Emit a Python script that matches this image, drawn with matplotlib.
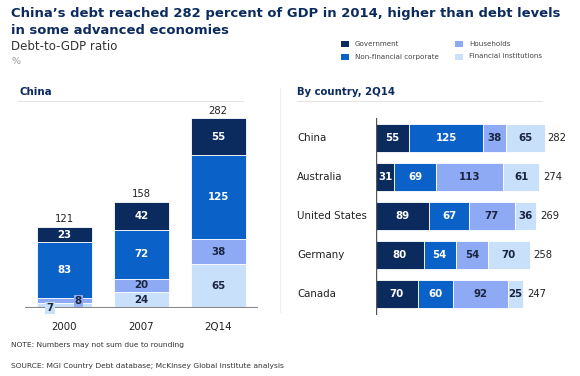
import matplotlib
matplotlib.use("Agg")
import matplotlib.pyplot as plt
import matplotlib.transforms as mtransforms
from matplotlib.patches import Rectangle
from matplotlib.lines import Line2D

plt.rcParams['font.family'] = ['DejaVu Sans']

# ---- data ----
years = ["2000", "2007", "2Q14"]
series = ["Government", "Non-financial corporate", "Households", "Financial institutions"]
china_gov = [23, 42, 55]
china_corp = [83, 72, 125]
china_hh = [8, 20, 38]
china_fin = [7, 24, 65]
china_total = [121, 158, 282]

countries = ["China", "Australia", "United States", "Germany", "Canada"]
c_gov = [55, 31, 89, 80, 70]
c_corp = [125, 69, 67, 54, 60]
c_hh = [38, 113, 77, 54, 92]
c_fin = [65, 61, 36, 70, 25]
c_total = [282, 274, 269, 258, 247]

colors = {"Government": "#0b2a5e", "Non-financial corporate": "#0a62c8",
          "Households": "#8eaaf5", "Financial institutions": "#c8e0fa"}
label_colors = {"Government": "white", "Non-financial corporate": "white",
                "Households": "#1a2540", "Financial institutions": "#1a2540"}
navy = "#0b2a5e"

W, H = 580, 376
fig = plt.figure(figsize=(5.8, 3.76), dpi=100)

def fx(px):
    return px / W

def fy(py):
    return 1 - py / H

# Title (fit line 1 to the reference width)
t1 = fig.text(fx(11), fy(14), "China\u2019s debt reached 282 percent of GDP in 2014, higher than debt levels",
              fontsize=9.0, fontweight="bold", color=navy, va="center", ha="left")
renderer = fig.canvas.get_renderer()
wpx = t1.get_window_extent(renderer).width
fs_title = 9.0 * (557 - 11) / wpx
t1.set_fontsize(fs_title)
fig.text(fx(11), fy(30.5), "in some advanced economies",
         fontsize=fs_title, fontweight="bold", color=navy, va="center", ha="left")
fig.text(fx(11), fy(47), "Debt-to-GDP ratio", fontsize=8.5, color="#333333", va="center")
fig.text(fx(11), fy(61), "%", fontsize=6.8, color="#999999", va="center")

# Legend
leg_items = [("Government", 341, 43.5), ("Non-financial corporate", 341, 56.5),
             ("Households", 455, 43.5), ("Financial institutions", 455, 56.5)]
for name, lx, ly in leg_items:
    fig.patches.append(Rectangle((fx(lx), fy(ly + 3)), 8 / W, 6 / H,
                                 transform=fig.transFigure, facecolor=colors[name],
                                 edgecolor="none"))
    fig.text(fx(lx + 14), fy(ly), name, fontsize=5.1, color="#444444", va="center")

# Panel headers
fig.text(fx(20), fy(92), "China", fontsize=7.4, fontweight="bold", color=navy, va="center")
fig.lines.append(Line2D([fx(18), fx(243)], [fy(101), fy(101)], transform=fig.transFigure,
                        color="#e4e4e4", lw=0.8))
fig.text(fx(297), fy(92), "By country, 2Q14", fontsize=7.3, fontweight="bold", color=navy, va="center")
fig.lines.append(Line2D([fx(297), fx(542)], [fy(101), fy(101)], transform=fig.transFigure,
                        color="#e4e4e4", lw=0.8))
# separator
fig.lines.append(Line2D([fx(280), fx(280)], [fy(88), fy(312)], transform=fig.transFigure,
                        color="#eeeeee", lw=0.8))

# ---- left chart ----
ax1 = fig.add_axes([fx(25), fy(308), 233 / W, 201 / H])
ax1.set_xlim(-0.515, 2.52)
ax1.set_ylim(0, 300)
ax1.axis("off")
xs = list(range(len(years)))
bw = 0.717
stack = [("Financial institutions", china_fin), ("Households", china_hh),
         ("Non-financial corporate", china_corp), ("Government", china_gov)]
bottoms = [0] * len(years)
for name, vals in stack:
    ax1.bar(xs, vals, bw, bottom=bottoms, color=colors[name], edgecolor="white", linewidth=0.6)
    for i, v in enumerate(vals):
        if i == 0 and name in ("Financial institutions", "Households"):
            pass
        else:
            ax1.text(xs[i], bottoms[i] + v / 2, str(v), ha="center", va="center",
                     fontsize=7.4, fontweight="bold", color=label_colors[name])
    bottoms = [b + v for b, v in zip(bottoms, vals)]
# small labels for 2000
ax1.text(xs[0] - 0.19, china_fin[0] / 2 - 3, str(china_fin[0]), ha="center", va="center",
         fontsize=7.4, fontweight="bold", color=label_colors["Financial institutions"],
         bbox=dict(boxstyle="square,pad=0.1", fc=colors["Financial institutions"], ec="none"),
         zorder=5)
ax1.text(xs[0] + 0.18, china_fin[0] + china_hh[0] / 2, str(china_hh[0]), ha="center", va="center",
         fontsize=7.4, fontweight="bold", color=label_colors["Households"],
         bbox=dict(boxstyle="square,pad=0.1", fc=colors["Households"], ec="none"),
         zorder=5)
for i, t in enumerate(china_total):
    ax1.text(xs[i], t + 4, str(t), ha="center", va="bottom", fontsize=7.2, color="#222222")
ax1.axhline(0, color="#888888", lw=1.5, zorder=4)
for i, y in enumerate(years):
    ax1.text(xs[i], -29, y, ha="center", va="center", fontsize=7.4, color="#222222")

# ---- right chart ----
ax2 = fig.add_axes([fx(376), fy(315), 178.8 / W, 197 / H])
ax2.set_xlim(0, 300)
ax2.set_ylim(4.54, -0.513)
ax2.axis("off")
ys = list(range(len(countries)))
bh = 0.72
stack2 = [("Government", c_gov), ("Non-financial corporate", c_corp),
          ("Households", c_hh), ("Financial institutions", c_fin)]
lefts = [0] * len(countries)
for name, vals in stack2:
    ax2.barh(ys, vals, bh, left=lefts, color=colors[name], edgecolor="white", linewidth=0.6)
    for i, v in enumerate(vals):
        ax2.text(lefts[i] + v / 2, ys[i], str(v), ha="center", va="center",
                 fontsize=7.4, fontweight="bold", color=label_colors[name])
    lefts = [l + v for l, v in zip(lefts, vals)]
for i, t in enumerate(c_total):
    ax2.text(t + 6, ys[i], str(t), ha="left", va="center", fontsize=7.2, color="#222222")
ax2.axvline(0, color="#555555", lw=1.0, zorder=4)
blend = mtransforms.blended_transform_factory(fig.transFigure, ax2.transData)
for i, c in enumerate(countries):
    ax2.text(fx(297), ys[i], c, transform=blend, ha="left", va="center", fontsize=7.4,
             color="#222222")

# Footnotes
fig.text(fx(11), fy(345), "NOTE: Numbers may not sum due to rounding", fontsize=5.4,
         color="#333333", va="center")
fig.text(fx(11), fy(366), "SOURCE: MGI Country Debt database; McKinsey Global Institute analysis",
         fontsize=5.4, color="#333333", va="center")

fig.savefig("out.png", dpi=100)
